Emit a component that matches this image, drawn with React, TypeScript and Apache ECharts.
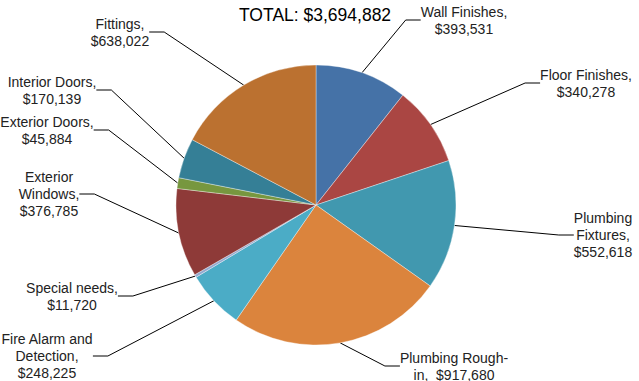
import React, { useEffect, useRef } from "react";
import * as echarts from "echarts";

const categories = [
  "Wall Finishes",
  "Floor Finishes",
  "Plumbing\nFixtures",
  "Plumbing Rough-\nin",
  "Fire Alarm and\nDetection",
  "Special needs",
  "Exterior\nWindows",
  "Exterior Doors",
  "Interior Doors",
  "Fittings",
];
const values = [393531, 340278, 552618, 917680, 248225, 11720, 376785, 45884, 170139, 638022];
const valueSameLine = [false, false, false, true, false, false, false, false, false, false];
const colors = [
  "#4572a7",
  "#aa4643",
  "#4198af",
  "#db843d",
  "#4bacc6",
  "#93a9cf",
  "#8e3a38",
  "#77973f",
  "#357f96",
  "#bb7130",
];
// label centre positions (layout only)
const labelPos: [number, number][] = [
  [464, 20],
  [586, 83],
  [603, 235],
  [454, 366],
  [47, 356],
  [72, 296],
  [49, 194],
  [47, 130],
  [52, 90],
  [120, 32],
];
const totalText = "TOTAL: $3,694,882";

const fmt = (v: number) => "$" + v.toLocaleString("en-US");

export default function App() {
  const ref = useRef<HTMLDivElement>(null);
  useEffect(() => {
    if (!ref.current) return;
    const chart = echarts.init(ref.current, null, { renderer: "svg" });
    chart.setOption({
      animation: false,
      backgroundColor: "#ffffff",
      title: {
        text: totalText,
        left: 239,
        top: 6,
        padding: 0,
        textStyle: {
          fontFamily: "Liberation Sans, Arial, sans-serif",
          fontSize: 17.5,
          fontWeight: "normal",
          color: "#000",
        },
      },
      series: [
        {
          type: "pie",
          center: [316, 205],
          radius: 140,
          startAngle: 90,
          clockwise: true,
          data: categories.map((c, i) => ({
            name: c,
            value: values[i],
            itemStyle: { color: colors[i] },
          })),
          itemStyle: { borderColor: "rgba(255,255,255,0.6)", borderWidth: 0.6 },
          label: {
            show: true,
            position: "outside",
            fontFamily: "Liberation Sans, Arial, sans-serif",
            fontSize: 14,
            lineHeight: 17,
            color: "#222",
            align: "center",
            formatter: (p: any) =>
              p.name + "," + (valueSameLine[p.dataIndex] ? "  " : "\n") + fmt(p.value),
          },
          labelLine: {
            show: true,
            length: 15,
            length2: 15,
            lineStyle: { color: "#000", width: 1 },
          },
          labelLayout: (params: any) => {
            const [x, y] = labelPos[params.dataIndex];
            return { x, y, align: "center", verticalAlign: "middle", hideOverlap: false, moveOverlap: false };
          },
          emphasis: { disabled: true },
        },
      ],
    });
    return () => chart.dispose();
  }, []);
  return <div ref={ref} style={{ width: 639, height: 381, position: "absolute", left: 0, top: 0 }} />;
}
